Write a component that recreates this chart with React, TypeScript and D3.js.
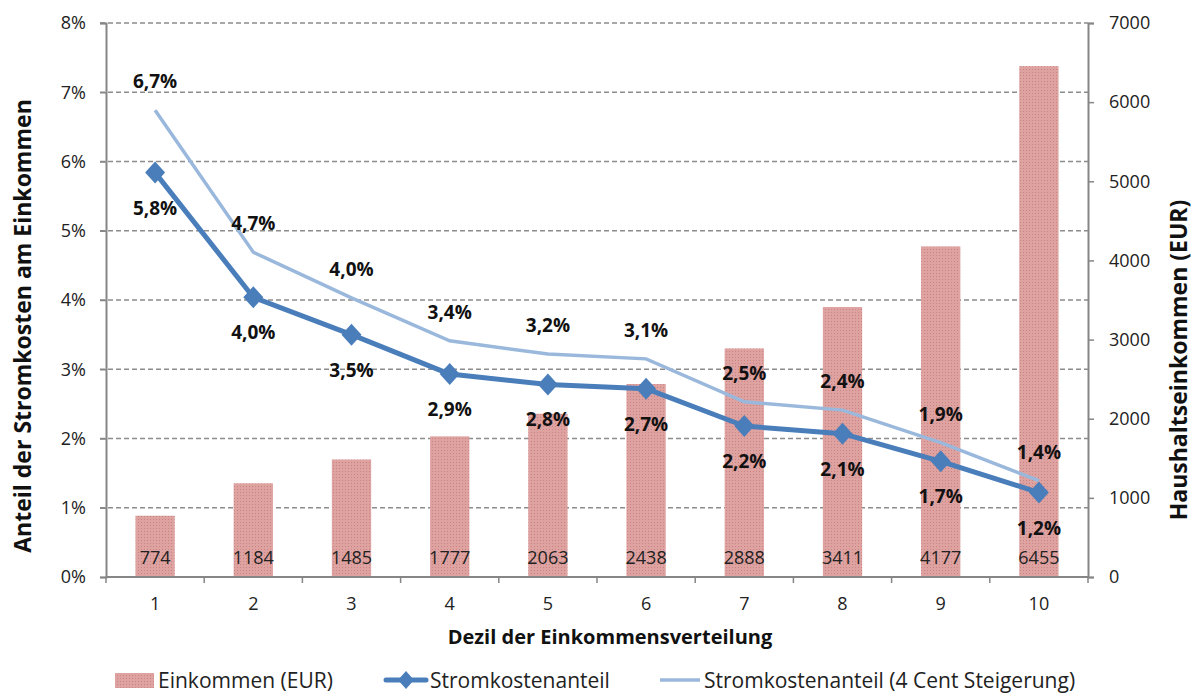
import React, { useEffect, useRef } from 'react';
import * as d3 from 'd3';

const deciles = ['1', '2', '3', '4', '5', '6', '7', '8', '9', '10'];
const income = [774, 1184, 1485, 1777, 2063, 2438, 2888, 3411, 4177, 6455];
const share = [5.84, 4.04, 3.5, 2.93, 2.78, 2.72, 2.18, 2.07, 1.67, 1.22];
const shareLabels = ['5,8%', '4,0%', '3,5%', '2,9%', '2,8%', '2,7%', '2,2%', '2,1%', '1,7%', '1,2%'];
const shareUp = [6.74, 4.69, 4.03, 3.41, 3.22, 3.15, 2.53, 2.41, 1.94, 1.39];
const shareUpLabels = ['6,7%', '4,7%', '4,0%', '3,4%', '3,2%', '3,1%', '2,5%', '2,4%', '1,9%', '1,4%'];
const leftTicks = [0, 1, 2, 3, 4, 5, 6, 7, 8];
const rightTicks = [0, 1000, 2000, 3000, 4000, 5000, 6000, 7000];

const FONT = '"Open Sans", sans-serif';

const App: React.FC = () => {
  const svgRef = useRef<SVGSVGElement>(null);

  useEffect(() => {
    if (!svgRef.current) return;
    const width = 1195;
    const height = 693;
    const left = 106;
    const right = 1088;
    const top = 23;
    const bottom = 577;

    const svg = d3.select(svgRef.current)
      .attr('width', width)
      .attr('height', height)
      .html('');

    // bar pattern
    const defs = svg.append('defs');
    const pat = defs.append('pattern')
      .attr('id', 'barPat')
      .attr('width', 3).attr('height', 3)
      .attr('patternUnits', 'userSpaceOnUse');
    pat.append('rect').attr('width', 3).attr('height', 3).attr('fill', '#dea2a1');
    pat.append('rect').attr('width', 1).attr('height', 1).attr('fill', '#c98382');

    const x = d3.scaleBand().domain(deciles).range([left, right]).paddingInner(0.6).paddingOuter(0.3);
    const xc = (d: string) => (x(d) as number) + x.bandwidth() / 2;
    const yL = d3.scaleLinear().domain([0, 8]).range([bottom, top]);
    const yR = d3.scaleLinear().domain([0, 7000]).range([bottom, top]);

    // gridlines
    svg.append('g').selectAll('line')
      .data(leftTicks.slice(1))
      .enter().append('line')
      .attr('x1', left - 6).attr('x2', right)
      .attr('y1', d => yL(d)).attr('y2', d => yL(d))
      .attr('stroke', '#8c8c8c').attr('stroke-width', 1.3)
      .attr('stroke-dasharray', '5,3');

    // bars
    svg.append('g').selectAll('rect')
      .data(income)
      .enter().append('rect')
      .attr('x', (d, i) => x(deciles[i]) as number)
      .attr('width', x.bandwidth())
      .attr('y', d => yR(d))
      .attr('height', d => bottom - yR(d))
      .attr('fill', 'url(#barPat)');

    // bar labels
    svg.append('g').selectAll('text')
      .data(income)
      .enter().append('text')
      .attr('x', (d, i) => xc(deciles[i]))
      .attr('y', bottom - 13)
      .attr('text-anchor', 'middle')
      .attr('font-family', FONT)
      .attr('font-size', 18)
      .attr('fill', '#222')
      .text(d => d);

    // axes
    const axisColor = '#868686';
    const axL = svg.append('g').attr('transform', `translate(${left},0)`)
      .call(d3.axisLeft(yL).tickValues(leftTicks).tickSize(6).tickFormat(d => `${d}%`));
    const axR = svg.append('g').attr('transform', `translate(${right},0)`)
      .call(d3.axisRight(yR).tickValues(rightTicks).tickSize(6).tickFormat(d => `${d}`));
    const axB = svg.append('g').attr('transform', `translate(0,${bottom})`)
      .call(d3.axisBottom(x).tickSize(0).tickPadding(20));
    [axL, axR, axB].forEach(ax => {
      ax.select('.domain').attr('stroke', axisColor).attr('stroke-width', 2);
      ax.selectAll('.tick line').attr('stroke', axisColor).attr('stroke-width', 1.5);
      ax.selectAll('text').attr('font-family', FONT).attr('font-size', 18).attr('fill', '#222');
    });
    axL.selectAll('.tick text').attr('x', -20);
    axR.selectAll('.tick text').attr('x', 21);
    axB.select('.domain').attr('d', `M${left},0H${right}`);
    // category boundary ticks
    svg.append('g').selectAll('line')
      .data(d3.range(deciles.length + 1))
      .enter().append('line')
      .attr('x1', i => left + (i * (right - left)) / deciles.length)
      .attr('x2', i => left + (i * (right - left)) / deciles.length)
      .attr('y1', bottom).attr('y2', bottom + 6)
      .attr('stroke', axisColor).attr('stroke-width', 1.5);

    // lines
    const lineGen = d3.line<number>().x((d, i) => xc(deciles[i])).y(d => yL(d));
    svg.append('path').datum(shareUp)
      .attr('d', lineGen)
      .attr('fill', 'none')
      .attr('stroke', '#9ab8dc')
      .attr('stroke-width', 3.5);

    svg.append('path').datum(share)
      .attr('d', lineGen)
      .attr('fill', 'none')
      .attr('stroke', '#4a7ebb')
      .attr('stroke-width', 5)
      .attr('stroke-linejoin', 'round');

    svg.append('g').selectAll('path')
      .data(share)
      .enter().append('path')
      .attr('transform', (d, i) => `translate(${xc(deciles[i])},${yL(d)})`)
      .attr('d', 'M0,-11L10,0L0,11L-10,0Z')
      .attr('fill', '#4a7ebb');

    // value labels
    svg.append('g').selectAll('text')
      .data(shareUp)
      .enter().append('text')
      .attr('x', (d, i) => xc(deciles[i]))
      .attr('y', d => yL(d) - 22)
      .attr('text-anchor', 'middle')
      .attr('font-family', FONT).attr('font-size', 19).attr('font-weight', 'bold')
      .attr('fill', '#111')
      .text((d, i) => shareUpLabels[i]);

    svg.append('g').selectAll('text')
      .data(share)
      .enter().append('text')
      .attr('x', (d, i) => xc(deciles[i]))
      .attr('y', d => yL(d) + 42)
      .attr('text-anchor', 'middle')
      .attr('font-family', FONT).attr('font-size', 19).attr('font-weight', 'bold')
      .attr('fill', '#111')
      .text((d, i) => shareLabels[i]);

    // axis titles
    svg.append('text')
      .attr('transform', 'translate(31,326) rotate(-90)')
      .attr('text-anchor', 'middle')
      .attr('font-family', FONT).attr('font-size', 23).attr('font-weight', 'bold')
      .attr('fill', '#111')
      .text('Anteil der Stromkosten am Einkommen');
    svg.append('text')
      .attr('transform', 'translate(1187,360) rotate(-90)')
      .attr('text-anchor', 'middle')
      .attr('font-family', FONT).attr('font-size', 23).attr('font-weight', 'bold')
      .attr('fill', '#111')
      .text('Haushaltseinkommen (EUR)');
    svg.append('text')
      .attr('x', 610)
      .attr('y', 644)
      .attr('text-anchor', 'middle')
      .attr('font-family', FONT).attr('font-size', 20).attr('font-weight', 'bold')
      .attr('fill', '#111')
      .text('Dezil der Einkommensverteilung');

    // legend
    const lg = svg.append('g').attr('font-family', FONT).attr('font-size', 21).attr('fill', '#222');
    lg.append('rect').attr('x', 115).attr('y', 673).attr('width', 39).attr('height', 15).attr('fill', 'url(#barPat)');
    lg.append('text').attr('x', 158).attr('y', 688).text('Einkommen (EUR)');
    lg.append('line').attr('x1', 386).attr('x2', 426).attr('y1', 680).attr('y2', 680)
      .attr('stroke', '#4a7ebb').attr('stroke-width', 5).attr('stroke-linecap', 'round');
    lg.append('path').attr('transform', 'translate(406,680)').attr('d', 'M0,-9L8,0L0,9L-8,0Z').attr('fill', '#4a7ebb');
    lg.append('text').attr('x', 430).attr('y', 688).text('Stromkostenanteil');
    lg.append('line').attr('x1', 660).attr('x2', 700).attr('y1', 680).attr('y2', 680)
      .attr('stroke', '#9ab8dc').attr('stroke-width', 3.5);
    lg.append('text').attr('x', 704).attr('y', 688).text('Stromkostenanteil (4 Cent Steigerung)');
  }, []);

  return <svg ref={svgRef} style={{ display: 'block', position: 'absolute', left: 0, top: 0, background: '#fff' }} />;
};

export default App;
